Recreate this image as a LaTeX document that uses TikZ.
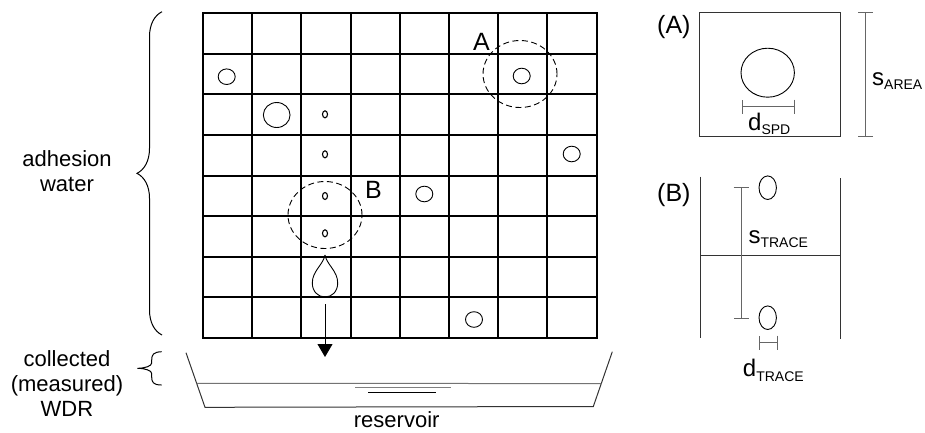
\documentclass[tikz,border=0pt]{standalone}
\usepackage{fontspec}
\setmainfont{Liberation Sans}
\usepackage{tikz}
\usetikzlibrary{positioning, arrows.meta, shapes.geometric, decorations.pathreplacing, calc}

\newcommand{\sublabel}[2]{{\fontsize{24}{24}\selectfont #1}\raisebox{-4.5pt}{\fontsize{14}{14}\selectfont #2}}

\begin{document}
\begin{tikzpicture}[x=1pt, y=-1pt,
  drop/.style={ellipse, draw, line width=0.9pt, inner sep=0pt},
  zoomring/.style={ellipse, draw, dash pattern=on 6pt off 3.5pt, line width=0.9pt, inner sep=0pt, minimum width=74pt, minimum height=67pt},
  tag/.style={font=\fontsize{25}{25}\selectfont, inner sep=0pt},
  txt/.style={font=\fontsize{22}{25}\selectfont, align=center, inner sep=0pt},
  panel/.style={draw=black!80, line width=1pt},
  dimline/.style={draw=black!60, line width=0.9pt},
]
\useasboundingbox (0,0) rectangle (925,432);

% Test surface (8 x 8 areas)
\foreach \i in {0,...,8} \draw[line width=2.2pt, line cap=rect] ({round(203+49.2*\i)},13) -- ({round(203+49.2*\i)},338);
\foreach \j in {0,...,8} \draw[line width=2.2pt, line cap=rect] (203,{round(13+40.625*\j)}) -- (597,{round(13+40.625*\j)});

% Spots and traces
\node[drop, minimum width=17pt, minimum height=15.6pt] (spotA) at (226.7,76.7) {};
\node[drop, minimum width=26.7pt, minimum height=25pt] (spotB) at (276.7,115) {};
\node[drop, minimum width=17pt, minimum height=15.6pt] (spotC) at (521.7,76) {};
\node[drop, minimum width=17pt, minimum height=15.6pt] (spotD) at (571.7,154) {};
\node[drop, minimum width=17pt, minimum height=15.6pt] (spotE) at (424.3,194) {};
\node[drop, minimum width=17pt, minimum height=15.6pt] (spotF) at (474,319.5) {};
\foreach \y [count=\k] in {114.3,154.3,196,233.3}
  \node[drop, line width=1.1pt, minimum width=5pt, minimum height=7pt] (trace\k) at (325,\y) {};

% Zoomed regions
\node[zoomring] (ringA) at (520,74) {};
\node[zoomring] (ringB) at (325,215) {};
\node[tag, anchor=base west] (labA) at (473,50) {A};
\node[tag, anchor=base west] (labB) at (365,198) {B};

% Running droplet
\coordinate (droptip) at (325,255);
\draw[line width=0.9pt] (droptip) .. controls (323,265) and (312.3,271) .. (312.3,283)
  .. controls (312.3,291.5) and (318,297) .. (325,297)
  .. controls (332,297) and (337.7,291.5) .. (337.7,283)
  .. controls (337.7,271) and (327,265) .. (droptip);
\coordinate (fallstart) at (325,304.3);
\coordinate (fallend) at (325,357);
\draw[line width=0.9pt, -{Triangle[width=15pt,length=13pt]}] (fallstart) -- (fallend);

% Reservoir
\coordinate (resTL) at (186,352.7);
\coordinate (resBL) at (205,407.3);
\coordinate (resBR) at (593.3,406.5);
\coordinate (resTR) at (612.3,351.7);
\draw[black!80, line width=1pt] (resTL) -- (resBL) -- (resBR) -- (resTR);
\draw[black!55, line width=1pt] ($(resTL)!0.56!(resBL)$) -- ($(resTR)!0.582!(resBR)$);
\draw[black!50, line width=1.5pt] (355,387.7) -- (450.7,387.7);
\draw[line width=0.9pt] (368,392.3) -- (436,392.3);
\node[txt, anchor=base] (reslabel) at (396.7,427) {reservoir};

% Braces
\draw[decorate, decoration={brace, amplitude=25pt}, line width=1pt] (162,335) -- (162,11.7);
\draw[line width=1pt] (161.7,351.7) .. controls (153,352) and (151.7,355) .. (151.7,360) -- (151.7,363)
  .. controls (151.7,366) and (145,368.3) .. (137.3,368.3)
  .. controls (145,368.3) and (151.7,370.5) .. (151.7,373.5) -- (151.7,377)
  .. controls (151.7,382) and (153,385) .. (161.7,385);
\node[txt] (adhesion) at (67,170.7) {adhesion\\water};
\node[txt] (collected) at (67,383.7) {collected\\(measured)\\WDR};

% Detail (A)
\node[tag, anchor=base west] (tagA) at (657,33.3) {(A)};
\node[panel, minimum width=141.7pt, minimum height=124.4pt, inner sep=0pt] (areabox) at (769.85,74.5) {};
\node[drop, minimum width=53.4pt, minimum height=49pt] (spotzoom) at (767.7,72.7) {};
\coordinate (spdL) at (741.7,106.7);
\coordinate (spdR) at (795,106.7);
\draw[dimline, {Bar[width=14pt]}-{Bar[width=14pt]}] (spdL) -- (spdR);
\node[anchor=base west, inner sep=0pt] (spdlab) at (748,130) {\sublabel{d}{SPD}};
\coordinate (areaT) at (865.7,11.7);
\coordinate (areaB) at (865.7,137.3);
\draw[dimline, {Bar[width=15pt]}-{Bar[width=15pt]}] (areaT) -- (areaB);
\node[anchor=base west, inner sep=0pt] (arealab) at (872,85) {\sublabel{s}{AREA}};

% Detail (B)
\node[tag, anchor=base west] (tagB) at (657,201.7) {(B)};
\coordinate (bL1) at (700,176.7);
\coordinate (bL2) at (700,338.3);
\coordinate (bR1) at (840,178);
\coordinate (bR2) at (840,339);
\coordinate (bM1) at (700,255);
\coordinate (bM2) at (840,255);
\draw[panel] (bL1) -- (bL2);
\draw[panel] (bR1) -- (bR2);
\draw[panel] (bM1) -- (bM2);
\node[drop, minimum width=17.4pt, minimum height=23.6pt] (traceT) at (767.7,187.7) {};
\node[drop, minimum width=17.4pt, minimum height=23.6pt] (traceB) at (767.7,317.7) {};
\coordinate (strT) at (741,186.7);
\coordinate (strB) at (741,319);
\draw[dimline, {Bar[width=15pt]}-{Bar[width=15pt]}] (strT) -- (strB);
\node[anchor=base west, inner sep=0pt] (strlab) at (748.3,243.3) {\sublabel{s}{TRACE}};
\coordinate (dtrL) at (759,342.7);
\coordinate (dtrR) at (778.3,342.7);
\draw[dimline, {Bar[width=14pt]}-{Bar[width=14pt]}] (dtrL) -- (dtrR);
\node[anchor=base west, inner sep=0pt] (dtrlab) at (742.7,376.7) {\sublabel{d}{TRACE}};
\end{tikzpicture}
\end{document}
